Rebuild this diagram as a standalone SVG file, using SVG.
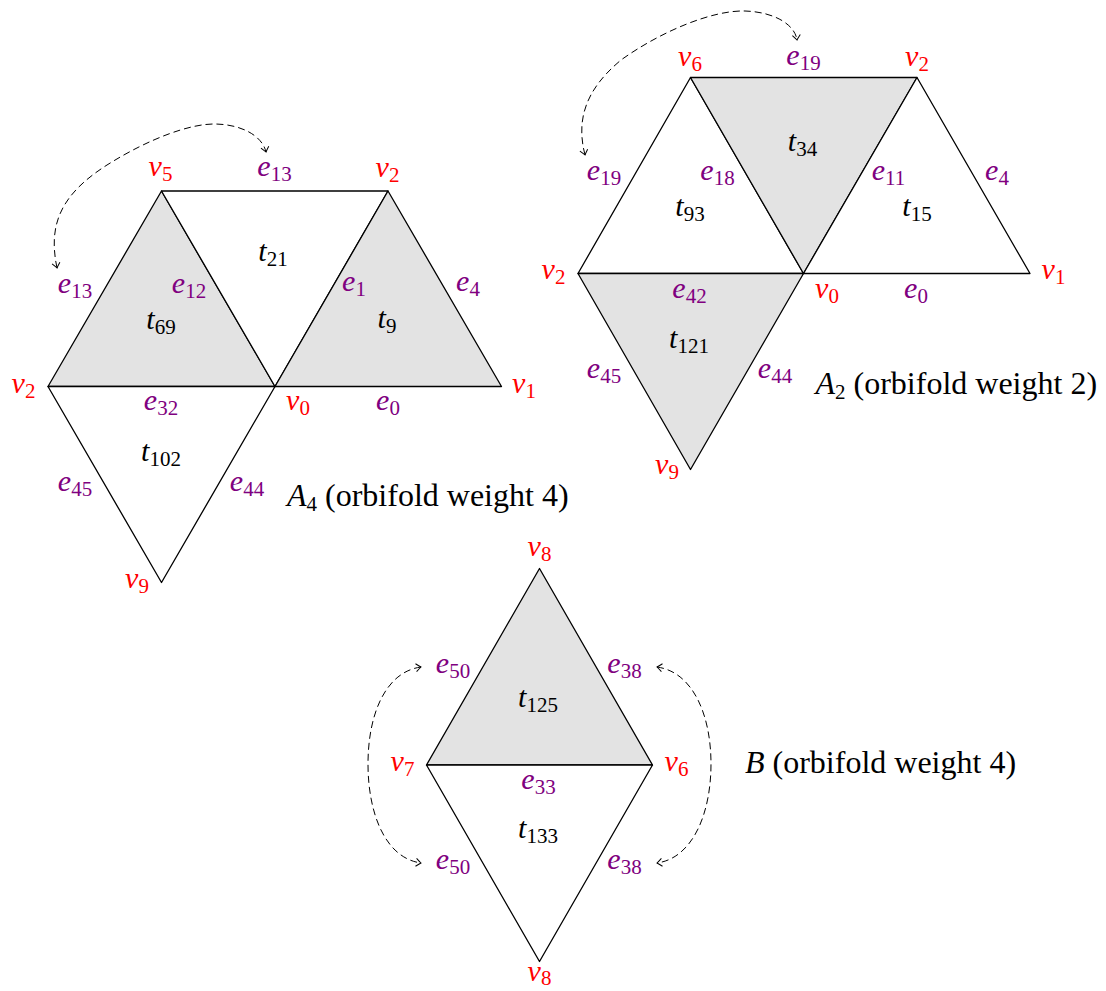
<svg xmlns="http://www.w3.org/2000/svg" width="1106" height="991" viewBox="0 0 1106 991">
<style>
.tri{stroke:#000;stroke-width:1.3;stroke-linejoin:round}
.sh{fill:#e3e3e3}
.wh{fill:#fff}
.lab{font-family:"Liberation Serif",serif;font-size:30px;font-style:italic;text-anchor:middle}
.v{fill:#ff0000}
.e{fill:#800080}
.t{fill:#000}
.sub{font-style:normal;font-size:21px}
.cap{font-family:"Liberation Serif",serif;font-size:32px;fill:#000}
.cap .it{font-style:italic}
.arr{fill:none;stroke:#000;stroke-width:1;stroke-dasharray:7 4;marker-start:url(#ah);marker-end:url(#ah)}
</style>
<defs>
<marker id="ah" viewBox="-7 -6 9 12" refX="0" refY="0" markerWidth="9" markerHeight="12" markerUnits="userSpaceOnUse" orient="auto-start-reverse">
<path d="M-5,-4 Q-1.5,-1 0,0 Q-1.5,1 -5,4" fill="none" stroke="#000" stroke-width="1" stroke-dasharray="none"/>
</marker>
</defs>
<rect width="1106" height="991" fill="#fff"/>

<!-- A4 -->
<g id="A4">
<g id="A4-t69"><polygon class="tri sh" points="48,386.5 161.5,191 275,386.5"/><text class="lab t" x="161" y="329">t<tspan class="sub" dy="4.5">69</tspan></text></g>
<g id="A4-t21"><polygon class="tri wh" points="161.5,191 388,191 275,386.5"/><text class="lab t" x="273" y="261">t<tspan class="sub" dy="4.5">21</tspan></text></g>
<g id="A4-t9"><polygon class="tri sh" points="275,386.5 388,191 501.5,386.5"/><text class="lab t" x="387" y="328">t<tspan class="sub" dy="4.5">9</tspan></text></g>
<g id="A4-t102"><polygon class="tri wh" points="48,386.5 275,386.5 161.5,582.5"/><text class="lab t" x="161" y="461">t<tspan class="sub" dy="4.5">102</tspan></text></g>
<g id="A4-vertices">
<text class="lab v" x="160.5" y="176">v<tspan class="sub" dy="4.5">5</tspan></text>
<text class="lab v" x="387.5" y="177">v<tspan class="sub" dy="4.5">2</tspan></text>
<text class="lab v" x="23.5" y="393">v<tspan class="sub" dy="4.5">2</tspan></text>
<text class="lab v" x="524" y="393">v<tspan class="sub" dy="4.5">1</tspan></text>
<text class="lab v" x="298" y="410">v<tspan class="sub" dy="4.5">0</tspan></text>
<text class="lab v" x="137" y="588">v<tspan class="sub" dy="4.5">9</tspan></text>
</g>
<g id="A4-edges">
<text class="lab e" x="274.5" y="176">e<tspan class="sub" dy="4.5">13</tspan></text>
<text class="lab e" x="75" y="293">e<tspan class="sub" dy="4.5">13</tspan></text>
<text class="lab e" x="189" y="293">e<tspan class="sub" dy="4.5">12</tspan></text>
<text class="lab e" x="354" y="291">e<tspan class="sub" dy="4.5">1</tspan></text>
<text class="lab e" x="468" y="291">e<tspan class="sub" dy="4.5">4</tspan></text>
<text class="lab e" x="161" y="410">e<tspan class="sub" dy="4.5">32</tspan></text>
<text class="lab e" x="388" y="410">e<tspan class="sub" dy="4.5">0</tspan></text>
<text class="lab e" x="75" y="491">e<tspan class="sub" dy="4.5">45</tspan></text>
<text class="lab e" x="247" y="491">e<tspan class="sub" dy="4.5">44</tspan></text>
</g>
<text id="A4-caption" class="cap" x="287" y="506"><tspan class="it">A</tspan><tspan class="sub" dy="4.5">4</tspan><tspan dy="-4.5"> (orbifold weight 4)</tspan></text>
</g>

<!-- A2 -->
<g id="A2">
<g id="A2-t93"><polygon class="tri wh" points="578,273.5 690.5,77.5 803.5,273.5"/><text class="lab t" x="690" y="216">t<tspan class="sub" dy="4.5">93</tspan></text></g>
<g id="A2-t34"><polygon class="tri sh" points="690.5,77.5 917,77.5 803.5,273.5"/><text class="lab t" x="802.5" y="151">t<tspan class="sub" dy="4.5">34</tspan></text></g>
<g id="A2-t15"><polygon class="tri wh" points="803.5,273.5 917,77.5 1030,273.5"/><text class="lab t" x="917" y="216">t<tspan class="sub" dy="4.5">15</tspan></text></g>
<g id="A2-t121"><polygon class="tri sh" points="578,273.5 803.5,273.5 690.5,469.5"/><text class="lab t" x="689" y="348">t<tspan class="sub" dy="4.5">121</tspan></text></g>
<g id="A2-vertices">
<text class="lab v" x="690" y="66">v<tspan class="sub" dy="4.5">6</tspan></text>
<text class="lab v" x="917" y="66">v<tspan class="sub" dy="4.5">2</tspan></text>
<text class="lab v" x="553.5" y="279">v<tspan class="sub" dy="4.5">2</tspan></text>
<text class="lab v" x="1053.5" y="279">v<tspan class="sub" dy="4.5">1</tspan></text>
<text class="lab v" x="827" y="298">v<tspan class="sub" dy="4.5">0</tspan></text>
<text class="lab v" x="667" y="474">v<tspan class="sub" dy="4.5">9</tspan></text>
</g>
<g id="A2-edges">
<text class="lab e" x="803.5" y="65">e<tspan class="sub" dy="4.5">19</tspan></text>
<text class="lab e" x="604" y="180">e<tspan class="sub" dy="4.5">19</tspan></text>
<text class="lab e" x="717.5" y="180">e<tspan class="sub" dy="4.5">18</tspan></text>
<text class="lab e" x="888.5" y="180">e<tspan class="sub" dy="4.5">11</tspan></text>
<text class="lab e" x="997" y="180">e<tspan class="sub" dy="4.5">4</tspan></text>
<text class="lab e" x="689.5" y="298">e<tspan class="sub" dy="4.5">42</tspan></text>
<text class="lab e" x="916" y="298">e<tspan class="sub" dy="4.5">0</tspan></text>
<text class="lab e" x="604" y="378">e<tspan class="sub" dy="4.5">45</tspan></text>
<text class="lab e" x="775" y="378">e<tspan class="sub" dy="4.5">44</tspan></text>
</g>
<text id="A2-caption" class="cap" x="815.5" y="394"><tspan class="it">A</tspan><tspan class="sub" dy="4.5">2</tspan><tspan dy="-4.5"> (orbifold weight 2)</tspan></text>
</g>

<!-- B -->
<g id="B">
<g id="B-t125"><polygon class="tri sh" points="426.5,765 539.5,568.5 652.5,765"/><text class="lab t" x="538" y="707">t<tspan class="sub" dy="4.5">125</tspan></text></g>
<g id="B-t133"><polygon class="tri wh" points="426.5,765 652.5,765 539.5,961.5"/><text class="lab t" x="538" y="838">t<tspan class="sub" dy="4.5">133</tspan></text></g>
<g id="B-vertices">
<text class="lab v" x="539.5" y="556">v<tspan class="sub" dy="4.5">8</tspan></text>
<text class="lab v" x="402.5" y="771">v<tspan class="sub" dy="4.5">7</tspan></text>
<text class="lab v" x="676.5" y="771">v<tspan class="sub" dy="4.5">6</tspan></text>
<text class="lab v" x="539.5" y="981">v<tspan class="sub" dy="4">8</tspan></text>
</g>
<g id="B-edges">
<text class="lab e" x="453" y="673">e<tspan class="sub" dy="4.5">50</tspan></text>
<text class="lab e" x="624.5" y="673">e<tspan class="sub" dy="4.5">38</tspan></text>
<text class="lab e" x="538.5" y="789">e<tspan class="sub" dy="4.5">33</tspan></text>
<text class="lab e" x="453" y="869">e<tspan class="sub" dy="4.5">50</tspan></text>
<text class="lab e" x="624.5" y="869">e<tspan class="sub" dy="4.5">38</tspan></text>
</g>
<text id="B-caption" class="cap" x="745" y="773"><tspan class="it">B</tspan> (orbifold weight 4)</text>
</g>

<!-- connectors -->
<g id="connectors">
<path class="arr" d="M57,268 C48,225 60,195 107,165 C150,138 190,124 214,124 C240,124 262,135 266,152"/>
<path class="arr" d="M585,155 C576,120 585,90 621,60 C660,32 712,10 745,11 C775,12 795,25 797,40"/>
<path class="arr" d="M421,667 C385,672 368,715 368,764 C368,813 385,858 421,863"/>
<path class="arr" d="M657,667 C693,672 711,715 711,764 C711,813 693,858 657,863"/>
</g>
</svg>
